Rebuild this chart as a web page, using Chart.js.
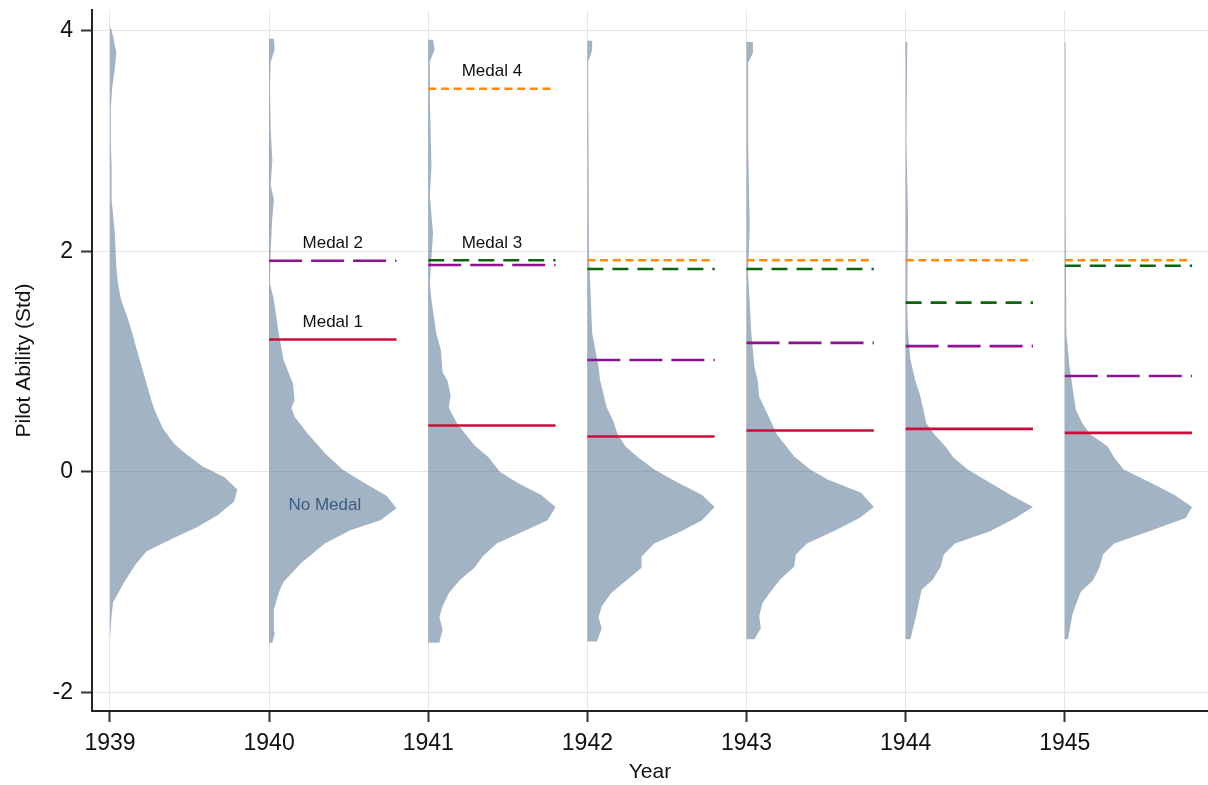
<!DOCTYPE html>
<html lang="en">
<head>
<meta charset="UTF-8">
<title>Pilot Ability by Year</title>
<script src="https://cdn.jsdelivr.net/npm/chart.js"></script>
<style>
    html, body { margin: 0; padding: 0; background: #fff; }
    #wrap { width: 1208px; height: 785px; position: relative; }
</style>
</head>
<body>
<div id="wrap"><canvas id="chart"></canvas></div>
<script>
    // years on the x axis
    const years = [1939, 1940, 1941, 1942, 1943, 1944, 1945];

    // ability densities, [ability, width] pairs, width scaled so the peak is 0.8 year
    const dens1939 = [[4.03,0.005],[3.95,0.02],[3.8,0.04],[3.65,0.03],[3.5,0.015],[3.3,0.005],[3.0,0.005],[2.77,0.01],[2.47,0.01],[2.17,0.03],[1.86,0.04],[1.71,0.05],[1.56,0.07],[1.4,0.11],[1.26,0.14],[1.1,0.17],[0.95,0.2],[0.8,0.23],[0.65,0.26],[0.56,0.28],[0.4,0.33],[0.26,0.4],[0.17,0.47],[0.05,0.58],[-0.05,0.72],[-0.16,0.8],[-0.27,0.78],[-0.39,0.68],[-0.5,0.55],[-0.6,0.4],[-0.72,0.23],[-0.84,0.16],[-1.0,0.09],[-1.18,0.02],[-1.3,0.01],[-1.52,0]];
    const dens1940 = [[3.93,0.03],[3.83,0.035],[3.72,0.01],[3.5,0.005],[3.1,0.01],[2.83,0.02],[2.6,0.01],[2.47,0.03],[2.31,0.02],[2.01,0.01],[1.71,0.005],[1.56,0.03],[1.26,0.06],[1.02,0.09],[0.8,0.15],[0.65,0.16],[0.58,0.14],[0.5,0.16],[0.35,0.24],[0.17,0.35],[0.02,0.46],[-0.12,0.62],[-0.22,0.74],[-0.33,0.8],[-0.44,0.7],[-0.53,0.51],[-0.65,0.35],[-0.83,0.2],[-1.0,0.09],[-1.1,0.06],[-1.25,0.03],[-1.43,0.03],[-1.47,0.035],[-1.55,0.02]];
    const dens1941 = [[3.92,0.03],[3.83,0.04],[3.72,0.01],[3.4,0.01],[2.77,0.02],[2.5,0.01],[2.17,0.03],[1.71,0.01],[1.56,0.02],[1.26,0.05],[1.1,0.08],[0.9,0.09],[0.83,0.12],[0.7,0.14],[0.58,0.13],[0.44,0.18],[0.24,0.29],[0.13,0.38],[0.0,0.45],[-0.1,0.56],[-0.21,0.71],[-0.32,0.8],[-0.44,0.75],[-0.54,0.6],[-0.65,0.43],[-0.77,0.34],[-0.87,0.29],[-0.98,0.2],[-1.1,0.13],[-1.22,0.09],[-1.32,0.07],[-1.43,0.09],[-1.55,0.07]];
    const dens1942 = [[3.91,0.03],[3.83,0.03],[3.72,0.005],[3.0,0.01],[2.0,0.01],[1.26,0.03],[0.95,0.07],[0.83,0.08],[0.59,0.12],[0.47,0.16],[0.34,0.19],[0.23,0.24],[0.13,0.32],[0.02,0.42],[-0.1,0.57],[-0.21,0.72],[-0.32,0.8],[-0.44,0.72],[-0.54,0.59],[-0.65,0.42],[-0.77,0.34],[-0.87,0.34],[-0.98,0.25],[-1.1,0.15],[-1.22,0.09],[-1.32,0.07],[-1.42,0.09],[-1.54,0.06]];
    const dens1943 = [[3.9,0.04],[3.8,0.04],[3.71,0.01],[3.0,0.01],[2.22,0.02],[1.8,0.01],[1.26,0.03],[0.95,0.05],[0.83,0.07],[0.68,0.08],[0.53,0.13],[0.34,0.19],[0.14,0.3],[0.02,0.4],[-0.07,0.51],[-0.19,0.72],[-0.32,0.8],[-0.42,0.71],[-0.53,0.56],[-0.65,0.38],[-0.75,0.31],[-0.86,0.3],[-0.98,0.21],[-1.09,0.15],[-1.19,0.1],[-1.31,0.08],[-1.42,0.09],[-1.52,0.05]];
    const dens1944 = [[3.9,0.01],[3.0,0.005],[2.3,0.015],[1.5,0.01],[1.26,0.015],[1.02,0.03],[0.83,0.06],[0.7,0.09],[0.44,0.13],[0.34,0.18],[0.23,0.25],[0.13,0.3],[0.02,0.39],[-0.1,0.53],[-0.21,0.66],[-0.32,0.8],[-0.42,0.69],[-0.54,0.53],[-0.65,0.31],[-0.75,0.24],[-0.86,0.22],[-0.98,0.17],[-1.07,0.1],[-1.28,0.07],[-1.52,0.03]];
    const dens1945 = [[3.9,0.005],[2.5,0.005],[1.26,0.01],[0.95,0.03],[0.86,0.04],[0.75,0.05],[0.56,0.07],[0.44,0.11],[0.34,0.16],[0.23,0.27],[0.13,0.31],[0.02,0.37],[-0.1,0.54],[-0.21,0.69],[-0.32,0.8],[-0.42,0.76],[-0.54,0.53],[-0.65,0.31],[-0.75,0.24],[-0.86,0.22],[-0.98,0.18],[-1.09,0.1],[-1.28,0.05],[-1.52,0.02]];
    const densities = [dens1939, dens1940, dens1941, dens1942, dens1943, dens1944, dens1945];

    // medal ability cutoffs per year (null = medal not awarded yet)
    const medal1 = [null, 1.20, 0.42, 0.32, 0.375, 0.39, 0.353];
    const medal2 = [null, 1.915, 1.877, 1.015, 1.17, 1.14, 0.87];
    const medal3 = [null, null, 1.92, 1.84, 1.84, 1.535, 1.87];
    const medal4 = [null, null, 3.475, 1.92, 1.92, 1.92, 1.92];
    const lineLen = 0.8;

    const yTicks = [-2, 0, 2, 4];

    // text labels [text, x, y]
    const notes = [
        ['Medal 1', 1940.4, 1.36],
        ['Medal 2', 1940.4, 2.07],
        ['Medal 3', 1941.4, 2.07],
        ['Medal 4', 1941.4, 3.63],
        ['No Medal', 1940.35, -0.3]
    ];

    const FONT = "'Liberation Sans', Arial, Helvetica, sans-serif";
    const densFill = 'rgba(70,103,137,0.5)';

    const datasets = [];

    densities.forEach((d, i) => {
        const yr = years[i];
        const pts = [{x: yr, y: d[0][0]}];
        d.forEach(p => pts.push({x: yr + p[1], y: p[0]}));
        pts.push({x: yr, y: d[d.length - 1][0]});
        datasets.push({
            data: pts,
            showLine: true,
            fill: 'shape',
            backgroundColor: densFill,
            borderWidth: 0,
            pointRadius: 0,
            order: 2
        });
    });

    const medals = [
        {vals: medal1, color: '#cc0c3a', dash: []},
        {vals: medal2, color: '#8e1190', dash: [33, 9]},
        {vals: medal3, color: '#0e650e', dash: [16, 9]},
        {vals: medal4, color: '#ff8a0c', dash: [8, 4.7]}
    ];
    medals.forEach(m => {
        m.vals.forEach((v, i) => {
            if (v === null) return;
            datasets.push({
                data: [{x: years[i], y: v}, {x: years[i] + lineLen, y: v}],
                showLine: true,
                fill: false,
                borderColor: m.color,
                borderWidth: 2.6,
                borderDash: m.dash,
                borderCapStyle: 'butt',
                pointRadius: 0,
                order: 1
            });
        });
    });

    const notesPlugin = {
        id: 'notes',
        afterDatasetsDraw(chart) {
            const {ctx, scales: {x, y}} = chart;
            ctx.save();
            ctx.font = '17px ' + FONT;
            ctx.textAlign = 'center';
            ctx.textBaseline = 'middle';
            notes.forEach(n => {
                ctx.fillStyle = n[0] === 'No Medal' ? '#3b5d82' : '#111';
                ctx.fillText(n[0], x.getPixelForValue(n[1]), y.getPixelForValue(n[2]));
            });
            ctx.restore();
        }
    };

    new Chart(document.getElementById('chart'), {
        type: 'scatter',
        data: {datasets},
        options: {
            responsive: true,
            maintainAspectRatio: false,
            animation: false,
            layout: {padding: {top: 10, right: 0, left: 0, bottom: 0}},
            plugins: {legend: {display: false}, tooltip: {enabled: false}},
            scales: {
                x: {
                    type: 'linear',
                    min: 1938.887,
                    max: 1945.9,
                    afterFit: s => { s.height = 74; s.paddingLeft = 0; s.paddingRight = 0; },
                    afterBuildTicks: s => { s.ticks = years.map(v => ({value: v})); },
                    ticks: {
                        callback: v => String(v),
                        color: '#111',
                        font: {family: FONT, size: 23},
                        padding: 8,
                        maxRotation: 0
                    },
                    grid: {color: '#e6e6e6', lineWidth: 1, tickColor: '#333', tickLength: 11, tickWidth: 2},
                    border: {color: '#222', width: 2},
                    title: {display: true, text: 'Year', color: '#111', font: {family: FONT, size: 21}, padding: {top: 0, bottom: 0}}
                },
                y: {
                    type: 'linear',
                    min: -2.17,
                    max: 4.19,
                    afterFit: s => { s.width = 92; s.paddingTop = 0; s.paddingBottom = 0; },
                    afterBuildTicks: s => { s.ticks = yTicks.map(v => ({value: v})); },
                    ticks: {
                        callback: v => String(v),
                        color: '#111',
                        font: {family: FONT, size: 23},
                        padding: 8
                    },
                    grid: {color: '#e6e6e6', lineWidth: 1, tickColor: '#333', tickLength: 11, tickWidth: 2},
                    border: {color: '#222', width: 2},
                    title: {display: true, text: 'Pilot Ability (Std)', color: '#111', font: {family: FONT, size: 21}, padding: {top: 12, bottom: 0}}
                }
            }
        },
        plugins: [notesPlugin]
    });
</script>
</body>
</html>
